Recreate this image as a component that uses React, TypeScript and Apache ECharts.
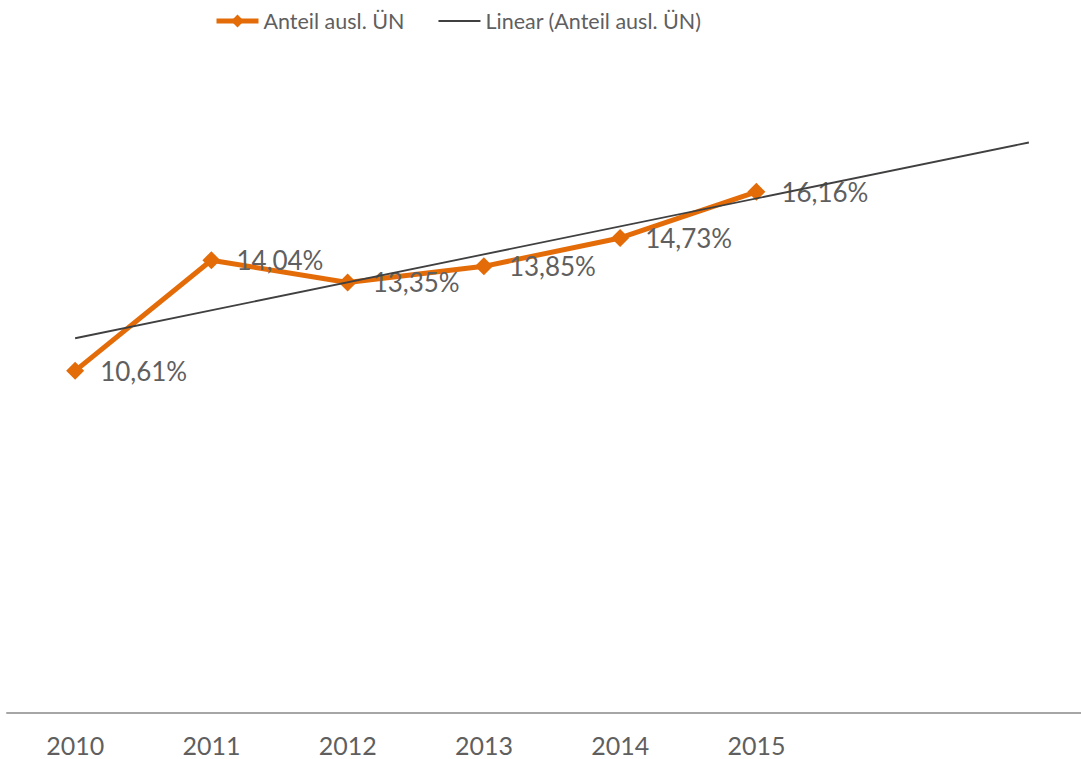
import React, { useEffect, useRef } from "react";
import * as echarts from "echarts";

const categories = ["2010", "2011", "2012", "2013", "2014", "2015", "", ""];
const shareValues = [10.61, 14.04, 13.35, 13.85, 14.73, 16.16];
const trendValues: (number | null)[] = [11.62, null, null, null, null, null, null, 17.69];
const seriesName = "Anteil ausl. ÜN";
const trendName = "Linear (Anteil ausl. ÜN)";

const FONT = "Lato, 'Open Sans', sans-serif";
const TEXT = "#5f5f5f";
const ORANGE = "#E36C09";

export default function App() {
  const ref = useRef<HTMLDivElement>(null);
  useEffect(() => {
    if (!ref.current) return;
    const chart = echarts.init(ref.current, undefined, { renderer: "svg" });
    chart.setOption({
      animation: false,
      backgroundColor: "#ffffff",
      textStyle: { fontFamily: FONT },
      legend: {
        top: 5,
        left: 209,
        itemGap: 33,
        itemWidth: 42,
        itemHeight: 16,
        textStyle: { color: TEXT, fontSize: 21.5, fontFamily: FONT },
        data: [
          { name: seriesName, lineStyle: { width: 5 } },
          { name: trendName, itemStyle: { color: "rgba(0,0,0,0)", borderWidth: 0, opacity: 0 } },
        ],
      },
      grid: { left: 7, right: 0, top: 68, bottom: 46, containLabel: false },
      xAxis: {
        type: "category",
        data: categories,
        boundaryGap: true,
        axisLine: { show: true, lineStyle: { color: "#a6a6a6", width: 2 } },
        axisTick: { show: false },
        axisLabel: { color: TEXT, fontSize: 25, fontFamily: FONT, margin: 19 },
        splitLine: { show: false },
      },
      yAxis: {
        type: "value",
        min: 0,
        max: 20,
        show: false,
        splitLine: { show: false },
      },
      series: [
        {
          name: seriesName,
          type: "line",
          data: shareValues,
          symbol: "diamond",
          symbolSize: 18,
          itemStyle: { color: ORANGE },
          lineStyle: { color: ORANGE, width: 5 },
          z: 3,
          label: {
            show: true,
            position: "right",
            distance: 16,
            color: TEXT,
            fontSize: 26,
            fontFamily: FONT,
            formatter: (p: any) => p.value.toFixed(2).replace(".", ",") + "%",
          },
        },
        {
          name: trendName,
          type: "line",
          data: trendValues,
          connectNulls: true,
          symbol: "none",
          itemStyle: { color: "#404040" },
          lineStyle: { color: "#404040", width: 1.8 },
          z: 4,
        },
      ],
    });
    return () => chart.dispose();
  }, []);
  return (
    <div style={{ position: "fixed", left: 0, top: 0, width: 1081, height: 759, overflow: "hidden" }}>
      <div ref={ref} style={{ width: 1097, height: 759 }} />
    </div>
  );
}
